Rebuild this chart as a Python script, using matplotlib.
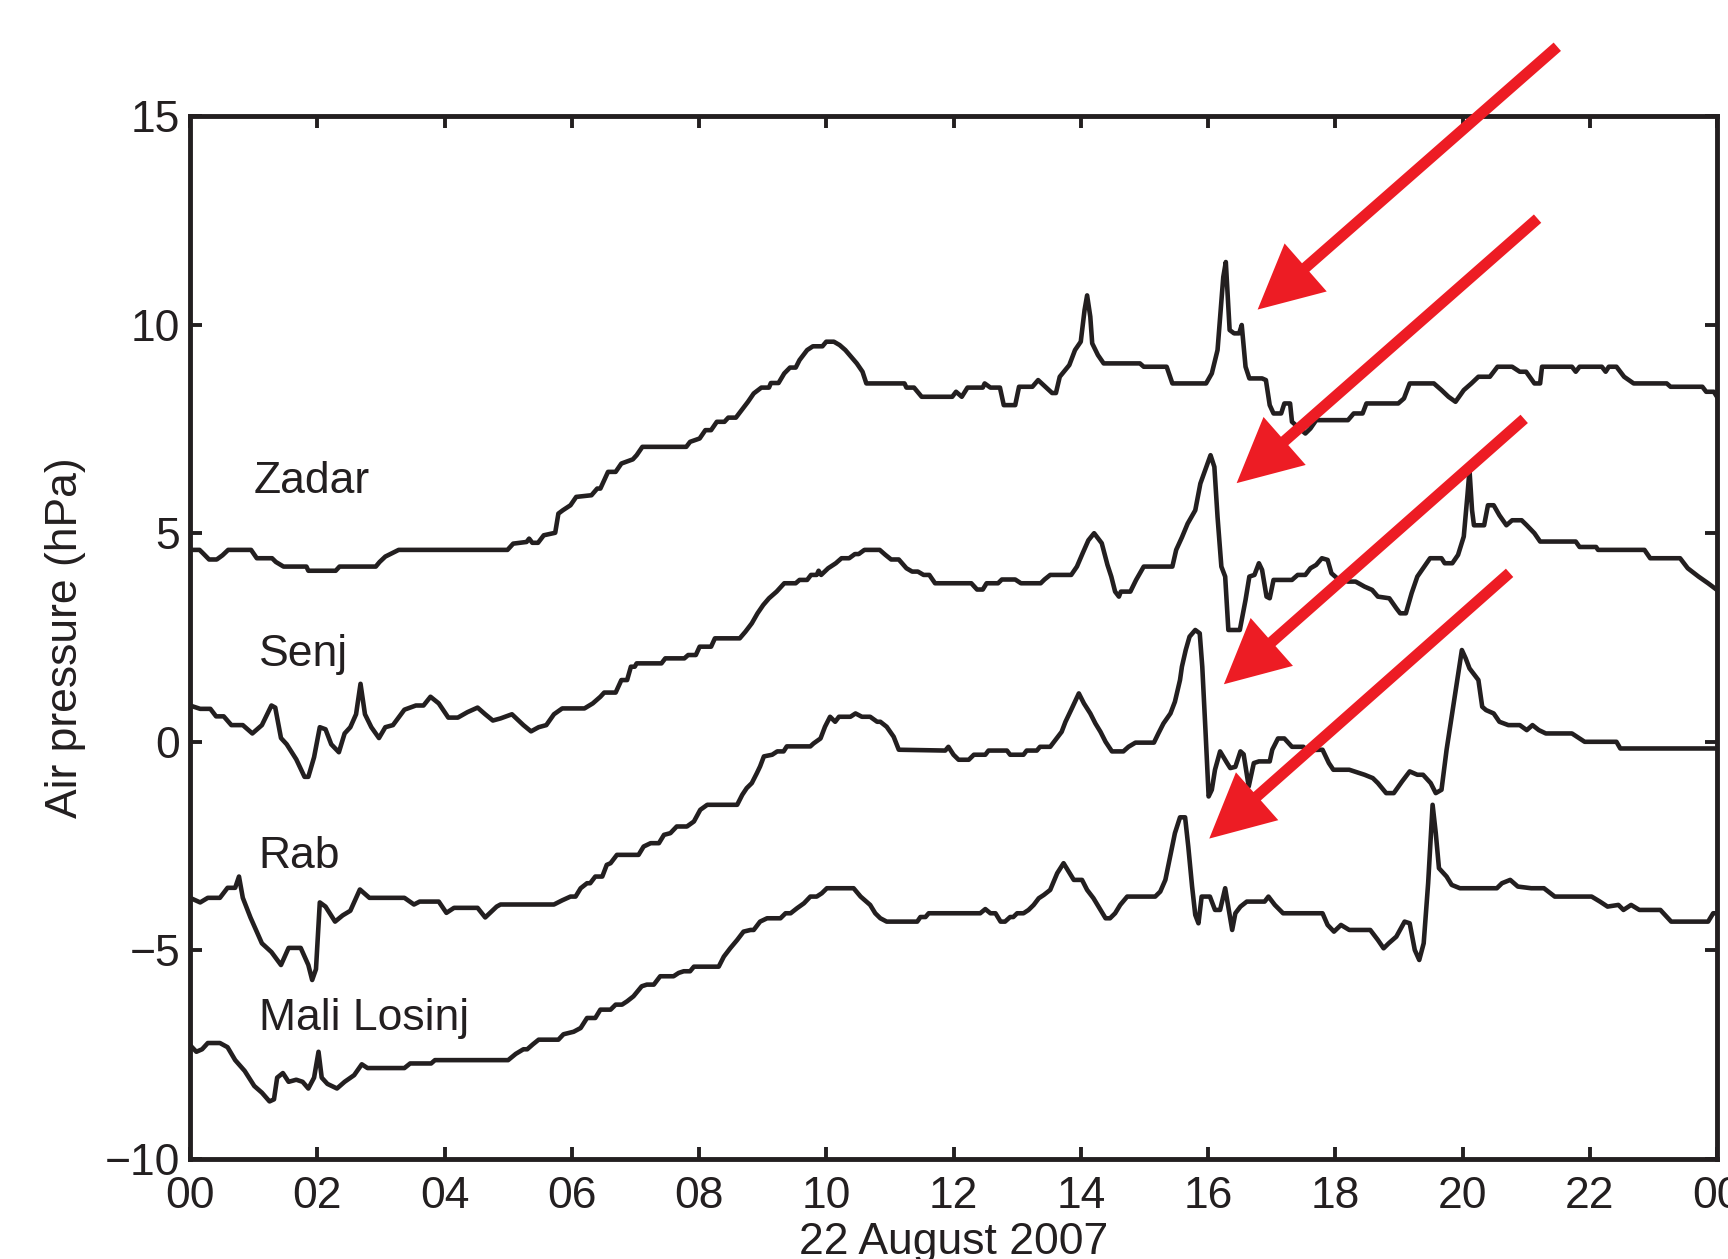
import numpy as np
import matplotlib
matplotlib.use("Agg")
import matplotlib.pyplot as plt

plt.rcParams['font.family'] = ['Liberation Sans', 'DejaVu Sans']

# hour of day, air pressure anomaly (hPa)
zadar = [(0.0, 4.6), (0.15, 4.6), (0.21, 4.51), (0.3, 4.37), (0.42, 4.37), (0.51, 4.47), (0.6, 4.6),
         (0.96, 4.6), (1.05, 4.4), (1.29, 4.4), (1.35, 4.31), (1.47, 4.2), (1.83, 4.2), (1.86, 4.1),
         (2.29, 4.1), (2.35, 4.2), (2.92, 4.2), (2.98, 4.31), (3.07, 4.44), (3.28, 4.6), (4.99, 4.6),
         (5.08, 4.75), (5.29, 4.79), (5.33, 4.87), (5.38, 4.77), (5.47, 4.77), (5.56, 4.95), (5.74, 5.01),
         (5.79, 5.47), (5.86, 5.55), (5.98, 5.67), (6.07, 5.87), (6.31, 5.91), (6.4, 6.07), (6.45, 6.07),
         (6.57, 6.47), (6.69, 6.47), (6.78, 6.67), (6.96, 6.77), (7.02, 6.87), (7.11, 7.07), (7.8, 7.07),
         (7.86, 7.19), (8.01, 7.27), (8.1, 7.47), (8.19, 7.47), (8.28, 7.67), (8.4, 7.67), (8.46, 7.77),
         (8.58, 7.77), (8.67, 7.95), (8.77, 8.15), (8.86, 8.35), (8.98, 8.49), (9.1, 8.49), (9.13, 8.6),
         (9.25, 8.6), (9.34, 8.83), (9.43, 8.97), (9.52, 8.97), (9.58, 9.15), (9.7, 9.39), (9.79, 9.48),
         (9.94, 9.48), (10.0, 9.59), (10.12, 9.59), (10.21, 9.51), (10.3, 9.39), (10.39, 9.23),
         (10.48, 9.07), (10.57, 8.87), (10.63, 8.59), (11.23, 8.59), (11.26, 8.49), (11.38, 8.49),
         (11.5, 8.27), (11.98, 8.27), (12.04, 8.39), (12.13, 8.27), (12.22, 8.49), (12.46, 8.49),
         (12.49, 8.59), (12.58, 8.49), (12.73, 8.49), (12.79, 8.07), (12.97, 8.07), (13.03, 8.51),
         (13.24, 8.51), (13.33, 8.67), (13.45, 8.5), (13.55, 8.36), (13.61, 8.36), (13.67, 8.75),
         (13.82, 9.03), (13.91, 9.39), (14.0, 9.59), (14.06, 10.35), (14.1, 10.7), (14.15, 10.19),
         (14.18, 9.55), (14.27, 9.27), (14.36, 9.07), (14.93, 9.07), (14.99, 8.99), (15.35, 8.99),
         (15.44, 8.59), (15.97, 8.59), (16.06, 8.83), (16.15, 9.39), (16.24, 11.14), (16.28, 11.5),
         (16.34, 9.87), (16.41, 9.79), (16.49, 9.79), (16.53, 9.99), (16.59, 8.99), (16.65, 8.71),
         (16.85, 8.71), (16.91, 8.67), (16.97, 8.07), (17.03, 7.87), (17.15, 7.87), (17.2, 8.11),
         (17.29, 8.11), (17.32, 7.67), (17.41, 7.55), (17.53, 7.39), (17.61, 7.51), (17.7, 7.71),
         (18.2, 7.71), (18.29, 7.87), (18.43, 7.87), (18.49, 8.11), (18.99, 8.11), (19.08, 8.23),
         (19.17, 8.59), (19.55, 8.59), (19.67, 8.43), (19.78, 8.27), (19.89, 8.15), (20.02, 8.43),
         (20.14, 8.59), (20.25, 8.75), (20.43, 8.75), (20.55, 8.99), (20.78, 8.99), (20.9, 8.87),
         (21.0, 8.87), (21.13, 8.59), (21.22, 8.59), (21.25, 8.99), (21.72, 8.99), (21.78, 8.87),
         (21.84, 8.99), (22.19, 8.99), (22.25, 8.87), (22.3, 8.99), (22.42, 8.99), (22.54, 8.75),
         (22.69, 8.59), (23.21, 8.59), (23.27, 8.51), (23.77, 8.51), (23.83, 8.39), (23.95, 8.39),
         (24.0, 8.27)]

senj = [(0.0, 0.87), (0.16, 0.79), (0.32, 0.79), (0.41, 0.61), (0.53, 0.61), (0.65, 0.4), (0.83, 0.4),
        (0.98, 0.2), (1.13, 0.4), (1.28, 0.87), (1.34, 0.82), (1.43, 0.09), (1.52, -0.06), (1.67, -0.42),
        (1.8, -0.84), (1.86, -0.84), (1.95, -0.37), (2.04, 0.35), (2.13, 0.3), (2.22, -0.06),
        (2.34, -0.25), (2.43, 0.2), (2.52, 0.35), (2.61, 0.66), (2.68, 1.39), (2.75, 0.66), (2.85, 0.35),
        (2.97, 0.09), (3.07, 0.35), (3.19, 0.4), (3.37, 0.77), (3.55, 0.87), (3.67, 0.87), (3.78, 1.08),
        (3.91, 0.92), (4.06, 0.58), (4.21, 0.58), (4.36, 0.71), (4.52, 0.82), (4.64, 0.66), (4.76, 0.51),
        (4.88, 0.56), (5.06, 0.66), (5.24, 0.4), (5.36, 0.25), (5.48, 0.35), (5.6, 0.4), (5.72, 0.66),
        (5.85, 0.8), (6.2, 0.8), (6.33, 0.92), (6.45, 1.08), (6.51, 1.18), (6.69, 1.18), (6.78, 1.48),
        (6.87, 1.48), (6.93, 1.8), (6.99, 1.8), (7.02, 1.88), (7.41, 1.88), (7.47, 2.0), (7.77, 2.0),
        (7.83, 2.08), (7.95, 2.08), (8.01, 2.28), (8.19, 2.28), (8.25, 2.48), (8.64, 2.48), (8.73, 2.64),
        (8.83, 2.84), (8.92, 3.08), (9.01, 3.28), (9.1, 3.44), (9.22, 3.6), (9.34, 3.8), (9.52, 3.8),
        (9.58, 3.88), (9.7, 3.88), (9.76, 4.0), (9.85, 4.0), (9.88, 4.1), (9.92, 4.0), (10.03, 4.16),
        (10.15, 4.28), (10.24, 4.4), (10.36, 4.4), (10.45, 4.5), (10.51, 4.5), (10.6, 4.6), (10.84, 4.6),
        (10.93, 4.48), (11.02, 4.37), (11.14, 4.37), (11.26, 4.16), (11.35, 4.08), (11.44, 4.08),
        (11.53, 4.0), (11.62, 4.0), (11.71, 3.8), (12.28, 3.8), (12.37, 3.65), (12.46, 3.65),
        (12.52, 3.8), (12.7, 3.8), (12.76, 3.89), (12.97, 3.89), (13.06, 3.8), (13.37, 3.8),
        (13.43, 3.89), (13.52, 4.0), (13.85, 4.0), (13.94, 4.2), (14.03, 4.52), (14.12, 4.83),
        (14.21, 5.0), (14.33, 4.76), (14.42, 4.24), (14.48, 3.96), (14.54, 3.6), (14.6, 3.48),
        (14.63, 3.6), (14.78, 3.6), (14.87, 3.88), (14.99, 4.2), (15.44, 4.2), (15.5, 4.6), (15.59, 4.9),
        (15.68, 5.23), (15.8, 5.55), (15.88, 6.19), (16.04, 6.87), (16.1, 6.59), (16.15, 5.39),
        (16.21, 4.2), (16.27, 3.96), (16.32, 2.68), (16.5, 2.68), (16.59, 3.4), (16.65, 3.96),
        (16.73, 4.0), (16.8, 4.28), (16.85, 4.12), (16.92, 3.48), (16.97, 3.44), (17.03, 3.88),
        (17.32, 3.88), (17.41, 4.0), (17.53, 4.0), (17.61, 4.16), (17.7, 4.24), (17.79, 4.4),
        (17.88, 4.36), (17.94, 4.04), (18.03, 3.92), (18.2, 3.84), (18.32, 3.84), (18.46, 3.72),
        (18.58, 3.64), (18.67, 3.48), (18.85, 3.44), (18.96, 3.2), (19.02, 3.08), (19.11, 3.08),
        (19.2, 3.56), (19.29, 3.96), (19.4, 4.2), (19.49, 4.4), (19.67, 4.4), (19.72, 4.28),
        (19.84, 4.28), (19.93, 4.48), (20.02, 4.92), (20.08, 5.95), (20.11, 6.51), (20.15, 5.55),
        (20.18, 5.19), (20.34, 5.19), (20.4, 5.67), (20.49, 5.67), (20.58, 5.43), (20.69, 5.19),
        (20.78, 5.31), (20.93, 5.31), (21.01, 5.19), (21.13, 5.0), (21.22, 4.8), (21.78, 4.8),
        (21.84, 4.67), (22.1, 4.67), (22.13, 4.6), (22.86, 4.6), (22.95, 4.4), (23.42, 4.4),
        (23.54, 4.16), (23.71, 3.96), (23.86, 3.8), (24.0, 3.64)]

rab = [(0.0, -3.74), (0.16, -3.85), (0.28, -3.74), (0.47, -3.74), (0.59, -3.5), (0.71, -3.5),
       (0.77, -3.23), (0.83, -3.74), (0.95, -4.21), (1.13, -4.83), (1.28, -5.04), (1.43, -5.35),
       (1.55, -4.94), (1.74, -4.94), (1.86, -5.35), (1.92, -5.71), (1.98, -5.45), (2.04, -3.85),
       (2.13, -3.95), (2.28, -4.31), (2.4, -4.16), (2.52, -4.05), (2.67, -3.54), (2.82, -3.74),
       (3.37, -3.74), (3.52, -3.9), (3.61, -3.83), (3.91, -3.83), (4.03, -4.1), (4.15, -3.98),
       (4.52, -3.98), (4.64, -4.21), (4.82, -3.95), (4.88, -3.9), (5.72, -3.9), (5.85, -3.8),
       (5.98, -3.71), (6.06, -3.71), (6.14, -3.51), (6.24, -3.39), (6.29, -3.39), (6.37, -3.23),
       (6.48, -3.23), (6.55, -2.95), (6.61, -2.91), (6.71, -2.71), (7.05, -2.71), (7.13, -2.51),
       (7.24, -2.43), (7.37, -2.43), (7.45, -2.23), (7.55, -2.19), (7.65, -2.03), (7.81, -2.03),
       (7.92, -1.91), (8.02, -1.63), (8.13, -1.51), (8.6, -1.51), (8.68, -1.27), (8.75, -1.11),
       (8.83, -0.99), (8.91, -0.75), (8.96, -0.59), (9.02, -0.35), (9.15, -0.31), (9.23, -0.23),
       (9.33, -0.23), (9.38, -0.11), (9.75, -0.11), (9.8, -0.04), (9.91, 0.08), (9.98, 0.36),
       (10.06, 0.6), (10.14, 0.48), (10.2, 0.6), (10.38, 0.6), (10.46, 0.68), (10.56, 0.6),
       (10.69, 0.6), (10.8, 0.48), (10.85, 0.48), (10.95, 0.36), (11.06, 0.12), (11.14, -0.19),
       (11.87, -0.21), (11.92, -0.12), (12.0, -0.31), (12.08, -0.43), (12.24, -0.43), (12.32, -0.31),
       (12.5, -0.31), (12.55, -0.21), (12.84, -0.21), (12.89, -0.31), (13.1, -0.31), (13.15, -0.21),
       (13.31, -0.21), (13.36, -0.12), (13.52, -0.12), (13.6, 0.04), (13.7, 0.24), (13.76, 0.48),
       (13.86, 0.8), (13.97, 1.16), (14.05, 0.92), (14.15, 0.68), (14.23, 0.44), (14.31, 0.24),
       (14.39, 0.0), (14.49, -0.23), (14.67, -0.23), (14.75, -0.12), (14.86, -0.02), (15.15, -0.02),
       (15.22, 0.2), (15.3, 0.44), (15.41, 0.68), (15.48, 0.96), (15.56, 1.48), (15.59, 1.8),
       (15.65, 2.2), (15.71, 2.52), (15.8, 2.68), (15.87, 2.6), (15.91, 1.8), (15.96, 0.28),
       (16.01, -1.31), (16.06, -1.15), (16.11, -0.67), (16.19, -0.23), (16.3, -0.51), (16.35, -0.63),
       (16.43, -0.6), (16.51, -0.23), (16.56, -0.3), (16.64, -1.07), (16.72, -0.51), (16.8, -0.47),
       (16.97, -0.47), (17.01, -0.19), (17.1, 0.08), (17.2, 0.08), (17.32, -0.12), (17.5, -0.12),
       (17.55, -0.2), (17.8, -0.19), (17.9, -0.51), (17.97, -0.67), (18.22, -0.67), (18.46, -0.79),
       (18.59, -0.87), (18.67, -0.99), (18.8, -1.23), (18.92, -1.23), (19.05, -0.95), (19.17, -0.71),
       (19.29, -0.79), (19.38, -0.79), (19.5, -0.99), (19.58, -1.23), (19.67, -1.15), (19.75, -0.19),
       (19.99, 2.2), (20.05, 2.0), (20.11, 1.76), (20.19, 1.6), (20.25, 1.48), (20.31, 0.84),
       (20.37, 0.76), (20.49, 0.68), (20.58, 0.48), (20.72, 0.4), (20.9, 0.4), (21.01, 0.28),
       (21.1, 0.4), (21.2, 0.28), (21.31, 0.2), (21.72, 0.2), (21.84, 0.08), (21.92, 0.0),
       (22.42, 0.0), (22.48, -0.16), (24.0, -0.16)]

mali_losinj = [(0.0, -7.27), (0.1, -7.43), (0.19, -7.37), (0.28, -7.22), (0.47, -7.22), (0.59, -7.32),
               (0.71, -7.63), (0.86, -7.89), (1.01, -8.25), (1.13, -8.41), (1.25, -8.62), (1.32, -8.57),
               (1.37, -8.05), (1.46, -7.94), (1.55, -8.15), (1.67, -8.1), (1.77, -8.15), (1.86, -8.31),
               (1.95, -8.05), (2.02, -7.43), (2.07, -8.05), (2.16, -8.2), (2.31, -8.31), (2.43, -8.15),
               (2.58, -7.99), (2.7, -7.73), (2.79, -7.82), (3.37, -7.82), (3.46, -7.71), (3.79, -7.71),
               (3.85, -7.63), (5.0, -7.63), (5.12, -7.48), (5.24, -7.37), (5.3, -7.37), (5.39, -7.25),
               (5.48, -7.14), (5.79, -7.14), (5.87, -7.01), (6.03, -6.95), (6.14, -6.86), (6.24, -6.62),
               (6.37, -6.62), (6.45, -6.42), (6.61, -6.42), (6.69, -6.3), (6.79, -6.3), (6.87, -6.22),
               (6.97, -6.1), (7.1, -5.86), (7.18, -5.82), (7.29, -5.82), (7.39, -5.62), (7.6, -5.62),
               (7.68, -5.54), (7.76, -5.5), (7.86, -5.5), (7.92, -5.39), (8.31, -5.39), (8.39, -5.15),
               (8.49, -4.95), (8.6, -4.75), (8.7, -4.55), (8.81, -4.51), (8.86, -4.51), (8.96, -4.31),
               (9.07, -4.23), (9.28, -4.23), (9.36, -4.11), (9.44, -4.11), (9.54, -3.99), (9.65, -3.87),
               (9.75, -3.71), (9.85, -3.71), (9.93, -3.63), (10.01, -3.51), (10.43, -3.51),
               (10.54, -3.71), (10.69, -3.91), (10.77, -4.11), (10.85, -4.23), (10.95, -4.31),
               (11.43, -4.31), (11.48, -4.2), (11.56, -4.2), (11.61, -4.11), (12.42, -4.11),
               (12.5, -4.01), (12.58, -4.11), (12.66, -4.11), (12.74, -4.31), (12.81, -4.31),
               (12.89, -4.2), (12.94, -4.2), (13.0, -4.11), (13.1, -4.11), (13.18, -4.03),
               (13.26, -3.91), (13.34, -3.75), (13.42, -3.67), (13.52, -3.55), (13.63, -3.15),
               (13.73, -2.91), (13.81, -3.11), (13.89, -3.31), (14.02, -3.31), (14.1, -3.55),
               (14.2, -3.75), (14.31, -4.03), (14.39, -4.23), (14.46, -4.23), (14.54, -4.11),
               (14.62, -3.91), (14.73, -3.71), (15.17, -3.71), (15.25, -3.59), (15.33, -3.31),
               (15.41, -2.71), (15.48, -2.19), (15.56, -1.81), (15.64, -1.81), (15.69, -2.51),
               (15.75, -3.47), (15.8, -4.15), (15.85, -4.35), (15.9, -3.71), (16.03, -3.71),
               (16.11, -4.03), (16.19, -4.03), (16.27, -3.51), (16.38, -4.51), (16.43, -4.11),
               (16.51, -3.95), (16.61, -3.83), (16.89, -3.83), (16.95, -3.71), (17.05, -3.91),
               (17.18, -4.11), (17.8, -4.11), (17.88, -4.39), (17.98, -4.55), (18.09, -4.39),
               (18.22, -4.51), (18.55, -4.51), (18.67, -4.75), (18.76, -4.95), (18.84, -4.83),
               (18.96, -4.67), (19.09, -4.31), (19.17, -4.35), (19.25, -4.99), (19.32, -5.23),
               (19.39, -4.83), (19.46, -3.39), (19.53, -1.51), (19.58, -2.19), (19.63, -3.03),
               (19.75, -3.23), (19.83, -3.43), (19.96, -3.51), (20.54, -3.51), (20.62, -3.39),
               (20.75, -3.31), (20.87, -3.47), (21.08, -3.51), (21.28, -3.51), (21.45, -3.71),
               (22.03, -3.71), (22.16, -3.83), (22.28, -3.95), (22.45, -3.91), (22.53, -4.03),
               (22.65, -3.91), (22.78, -4.03), (23.11, -4.03), (23.28, -4.31), (23.86, -4.31),
               (23.94, -4.11), (24.0, -4.11)]

stations = ["Zadar", "Senj", "Rab", "Mali Losinj"]
series = [zadar, senj, rab, mali_losinj]
# where each station name sits (hour, hPa)
label_pos = [(1.0, 5.96), (1.08, 1.82), (1.08, -3.02), (1.08, -6.9)]

tick_hours = list(range(0, 25, 2))
tick_labels = ["00", "02", "04", "06", "08", "10", "12", "14", "16", "18", "20", "22", "00"]
y_ticks = [-10, -5, 0, 5, 10, 15]

# red arrows: tip and tail in (hour, hPa)
arrow_tips = [(16.78, 10.36), (16.45, 6.2), (16.25, 1.38), (16.02, -2.32)]
arrow_tails = [(21.49, 16.66), (21.18, 12.54), (20.97, 7.74), (20.74, 4.05)]

INK = "#231f20"
RED = "#ed1c24"
FS = 32

fig = plt.figure(figsize=(17.28, 12.59), dpi=100)
ax = fig.add_axes([190 / 1728, 100 / 1259, 1527 / 1728, 1043 / 1259])

for name, data, (lx, ly) in zip(stations, series, label_pos):
    arr = np.array(data)
    ax.plot(arr[:, 0], arr[:, 1], color=INK, lw=3.3, solid_joinstyle="round")
    ax.text(lx, ly, name, fontsize=FS, color=INK, ha="left", va="baseline")

ax.set_xlim(0, 24)
ax.set_ylim(-10, 15)
ax.set_xticks(tick_hours)
ax.set_xticklabels(tick_labels)
ax.set_yticks(y_ticks)

ax.tick_params(axis="both", which="both", direction="in", top=True, right=True,
               length=8.6, width=2.8, labelsize=FS, colors=INK)
ax.tick_params(axis="x", pad=12)
ax.tick_params(axis="y", pad=7)
for sp in ax.spines.values():
    sp.set_linewidth(3.5)
    sp.set_color(INK)

ax.set_ylabel("Air pressure (hPa)", fontsize=FS, color=INK)
ax.yaxis.set_label_coords(-0.068, 0.5)
ax.set_xlabel("22 August 2007", fontsize=FS, color=INK)
ax.xaxis.set_label_coords(0.5, -0.06)

for tip, tail in zip(arrow_tips, arrow_tails):
    ax.annotate("", xy=tip, xytext=tail, annotation_clip=False,
                arrowprops=dict(arrowstyle="simple,head_length=46,head_width=46,tail_width=8",
                                mutation_scale=1, lw=0, color=RED,
                                shrinkA=0, shrinkB=0))

fig.savefig("out.png", dpi=100)
